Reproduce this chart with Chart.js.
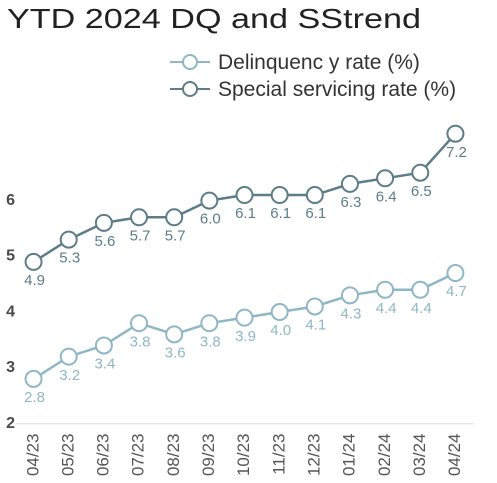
<!DOCTYPE html>
<html>
<head>
<meta charset="utf-8">
<script src="https://cdn.jsdelivr.net/npm/chart.js@4/dist/chart.umd.min.js"></script>
<style>
  html, body { margin: 0; padding: 0; background: #fff; }
  #chart { display: block; }
</style>
</head>
<body>
<canvas id="chart" width="497" height="483"></canvas>
<script>
// data
const chartTitle = 'YTD 2024 DQ and SStrend';
const months = ['04/23', '05/23', '06/23', '07/23', '08/23', '09/23', '10/23', '11/23', '12/23', '01/24', '02/24', '03/24', '04/24'];
const delinquencyRate = [2.8, 3.2, 3.4, 3.8, 3.6, 3.8, 3.9, 4.0, 4.1, 4.3, 4.4, 4.4, 4.7];
const specialServicingRate = [4.9, 5.3, 5.6, 5.7, 5.7, 6.0, 6.1, 6.1, 6.1, 6.3, 6.4, 6.5, 7.2];
const seriesNames = ['Delinquenc y rate (%)', 'Special servicing rate (%)'];
const yTicksShown = [2, 3, 4, 5, 6];

const lightBlue = '#8fb7c5';
const darkSlate = '#5d7d88';

// title + two-row legend drawn on top of the canvas
const headerPlugin = {
    id: 'header',
    afterDraw(chart) {
        const ctx = chart.ctx;
        ctx.save();
        ctx.translate(7, 28);
        ctx.scale(1.22, 1);
        ctx.fillStyle = '#222';
        ctx.font = '28px "Liberation Sans", Arial, sans-serif';
        ctx.textBaseline = 'alphabetic';
        ctx.fillText(chartTitle, 0, 0);
        ctx.restore();

        chart.data.datasets.forEach(function(ds, i) {
            const y = 62 + i * 27;
            ctx.save();
            ctx.strokeStyle = ds.borderColor;
            ctx.lineWidth = 2;
            ctx.beginPath();
            ctx.moveTo(170, y);
            ctx.lineTo(210, y);
            ctx.stroke();
            ctx.beginPath();
            ctx.arc(190, y, 7, 0, Math.PI * 2);
            ctx.fillStyle = '#fff';
            ctx.fill();
            ctx.stroke();
            ctx.fillStyle = '#333';
            ctx.font = '21px "Liberation Sans", Arial, sans-serif';
            ctx.textBaseline = 'middle';
            ctx.fillText(ds.label, 218, y + 1);
            ctx.restore();
        });
    }
};

// value labels under each point
const valueLabels = {
    id: 'valueLabels',
    afterDatasetsDraw(chart) {
        const ctx = chart.ctx;
        chart.data.datasets.forEach(function(ds, i) {
            const meta = chart.getDatasetMeta(i);
            ctx.save();
            ctx.fillStyle = ds.borderColor;
            ctx.font = '15px "Liberation Sans", Arial, sans-serif';
            ctx.textAlign = 'center';
            ctx.textBaseline = 'middle';
            meta.data.forEach(function(pt, j) {
                ctx.fillText(ds.data[j].toFixed(1), pt.x + 1, pt.y + 19);
            });
            ctx.restore();
        });
    }
};

const ctx = document.getElementById('chart').getContext('2d');
new Chart(ctx, {
    type: 'line',
    data: {
        labels: months,
        datasets: [{
            label: seriesNames[0],
            data: delinquencyRate,
            borderColor: lightBlue,
            backgroundColor: '#fff',
            borderWidth: 2.5,
            pointRadius: 8,
            pointBorderWidth: 2,
            pointBackgroundColor: '#fff',
            pointBorderColor: lightBlue,
            tension: 0
        }, {
            label: seriesNames[1],
            data: specialServicingRate,
            borderColor: darkSlate,
            backgroundColor: '#fff',
            borderWidth: 2.5,
            pointRadius: 8,
            pointBorderWidth: 2,
            pointBackgroundColor: '#fff',
            pointBorderColor: darkSlate,
            tension: 0
        }]
    },
    options: {
        responsive: false,
        animation: false,
        devicePixelRatio: 2,
        layout: {
            padding: { top: 117, left: 0, right: 24, bottom: 0 }
        },
        plugins: {
            legend: { display: false },
            title: { display: false },
            tooltip: { enabled: false }
        },
        scales: {
            x: {
                offset: true,
                grid: { display: false, drawTicks: false },
                border: { display: true, color: '#e6e6e6', width: 1.5 },
                ticks: {
                    minRotation: 90,
                    maxRotation: 90,
                    padding: 10,
                    color: '#555',
                    font: { family: '"Liberation Sans", Arial, sans-serif', size: 17 }
                },
                afterFit: function(scale) { scale.height = 59.5; }
            },
            y: {
                min: 2,
                max: 7.5,
                grid: { display: false, drawTicks: false },
                border: { display: false },
                ticks: {
                    stepSize: 1,
                    padding: 1,
                    color: '#4a4a4a',
                    font: { family: '"Liberation Sans", Arial, sans-serif', size: 16, weight: 'bold' },
                    callback: function(v) { return yTicksShown.includes(v) ? v : ''; }
                },
                afterFit: function(scale) { scale.width = 16; }
            }
        }
    },
    plugins: [headerPlugin, valueLabels]
});
</script>
</body>
</html>
